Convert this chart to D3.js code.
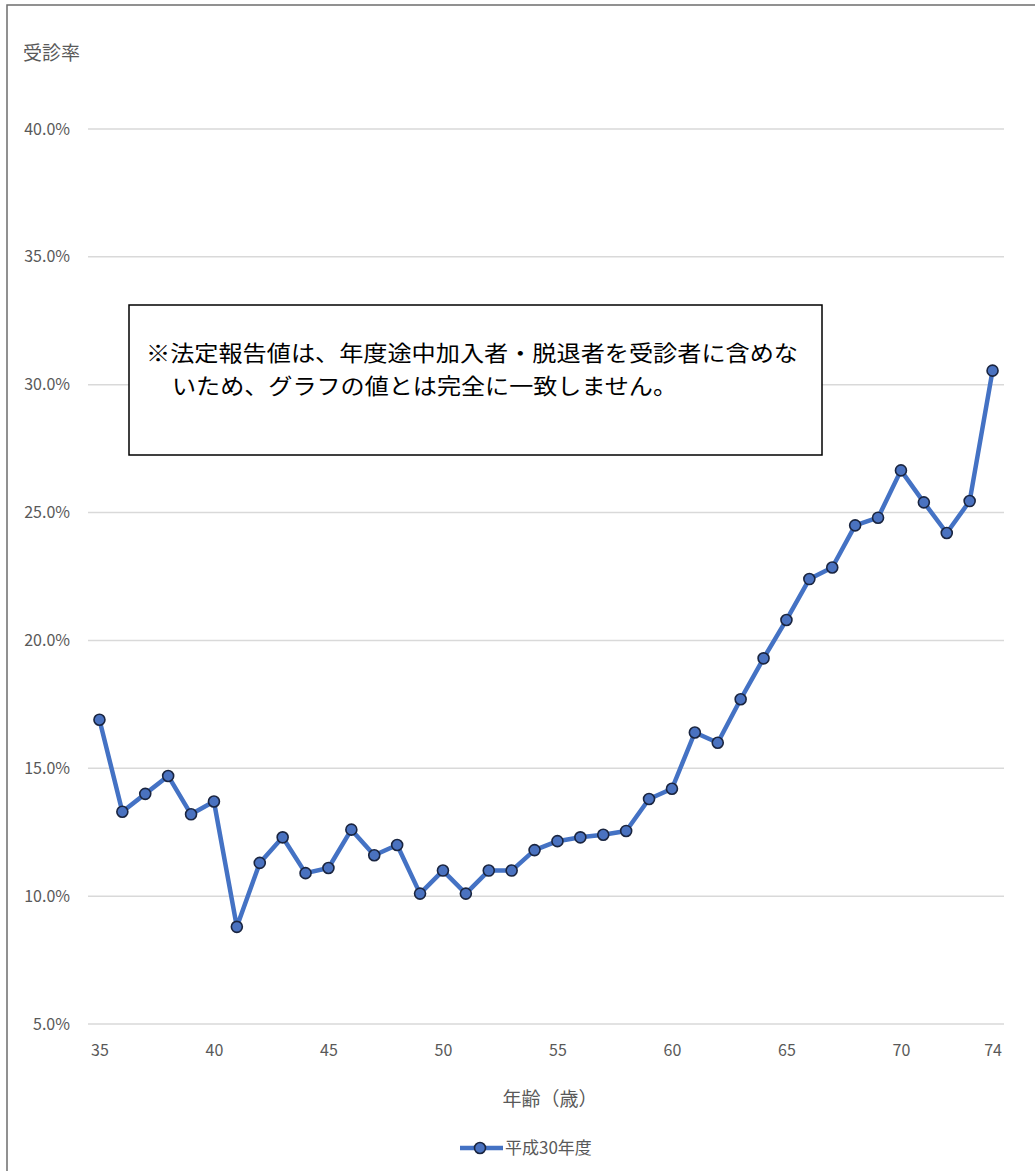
<!DOCTYPE html>
<html><head><meta charset="utf-8">
<script src="https://cdn.jsdelivr.net/npm/d3@7"></script>
<style>
html,body{margin:0;padding:0;background:#fff;}
svg{display:block;font-family:"Noto Sans CJK JP","Noto Sans",sans-serif;}
</style></head>
<body>
<script>
const ages = d3.range(35, 75);
const rates = [16.9,13.3,14.0,14.7,13.2,13.7,8.8,11.3,12.3,10.9,
               11.1,12.6,11.6,12.0,10.1,11.0,10.1,11.0,11.0,11.8,
               12.15,12.3,12.4,12.55,13.8,14.2,16.4,16.0,17.7,19.3,
               20.8,22.4,22.85,24.5,24.8,26.65,25.4,24.2,25.45,30.55];
const yTicks = [5,10,15,20,25,30,35,40];
const xTickLabels = [35,40,45,50,55,60,65,70,74];
const seriesName = "平成30年度";
const yTitle = "受診率";
const xTitle = "年齢（歳）";
const noteLines = ["※法定報告値は、年度途中加入者・脱退者を受診者に含めな","いため、グラフの値とは完全に一致しません。"];

const W = 1035, H = 1171;
const svg = d3.select("body").append("svg").attr("width", W).attr("height", H);
svg.append("rect").attr("width", W).attr("height", H).attr("fill", "#fff");
// outer frame
svg.append("rect").attr("x", 7).attr("y", 5).attr("width", W).attr("height", H)
  .attr("fill", "none").attr("stroke", "#6e6e6e").attr("stroke-width", 1.5);

const x = d3.scalePoint().domain(ages).range([88, 1004]).padding(0.5);
const y = d3.scaleLinear().domain([5, 40]).range([1024, 129]);
const txt = "#595959";

// gridlines
svg.append("g").selectAll("line").data(yTicks).join("line")
  .attr("x1", 88).attr("x2", 1004)
  .attr("y1", d => y(d)).attr("y2", d => y(d))
  .attr("stroke", "#d9d9d9").attr("stroke-width", 1.5);

// y axis labels
const yAxis = d3.axisLeft(y).tickValues(yTicks).tickFormat(d => d.toFixed(1) + "%").tickSize(0).tickPadding(0);
const gy = svg.append("g").attr("transform", "translate(70,0)").call(yAxis);
gy.select(".domain").remove();
gy.selectAll("text").attr("fill", txt).attr("font-size", 16).attr("font-family", "'Noto Sans CJK JP',sans-serif");

// x axis labels
const xAxis = d3.axisBottom(x).tickValues(xTickLabels).tickSize(0).tickPadding(0);
const gx = svg.append("g").attr("transform", "translate(0,1045)").call(xAxis);
gx.select(".domain").remove();
gx.selectAll("text").attr("fill", txt).attr("font-size", 16).attr("font-family", "'Noto Sans CJK JP',sans-serif");

// titles
svg.append("text").attr("x", 23).attr("y", 60).attr("fill", txt).attr("font-size", 19).text(yTitle);
svg.append("text").attr("x", 550).attr("y", 1106).attr("text-anchor", "middle").attr("fill", txt).attr("font-size", 19).text(xTitle);

// line
const data = ages.map((a, i) => ({a, v: rates[i]}));
svg.append("path").datum(data)
  .attr("d", d3.line().x(d => x(d.a)).y(d => y(d.v)))
  .attr("fill", "none").attr("stroke", "#4472C4").attr("stroke-width", 4.5).attr("stroke-linejoin", "round");
svg.append("g").selectAll("circle").data(data).join("circle")
  .attr("cx", d => x(d.a)).attr("cy", d => y(d.v)).attr("r", 5.5)
  .attr("fill", "#4a72c0").attr("stroke", "#1a2540").attr("stroke-width", 1.6);

// note box
svg.append("rect").attr("x", 129).attr("y", 305).attr("width", 693).attr("height", 150)
  .attr("fill", "#fff").attr("stroke", "#000").attr("stroke-width", 1.5);
svg.append("text").attr("x", 146).attr("y", 361).attr("font-size", 22).attr("fill", "#000")
  .attr("textLength", 652).attr("lengthAdjust", "spacingAndGlyphs").text(noteLines[0]);
svg.append("text").attr("x", 172).attr("y", 394).attr("font-size", 22).attr("fill", "#000")
  .attr("textLength", 505).attr("lengthAdjust", "spacingAndGlyphs").text(noteLines[1]);

// legend
svg.append("line").attr("x1", 460).attr("x2", 503).attr("y1", 1148).attr("y2", 1148)
  .attr("stroke", "#4472C4").attr("stroke-width", 4.5);
svg.append("circle").attr("cx", 480).attr("cy", 1148).attr("r", 5.5)
  .attr("fill", "#4a72c0").attr("stroke", "#1a2540").attr("stroke-width", 1.6);
svg.append("text").attr("x", 505).attr("y", 1154).attr("fill", txt).attr("font-size", 17).text(seriesName);
</script>
</body></html>
